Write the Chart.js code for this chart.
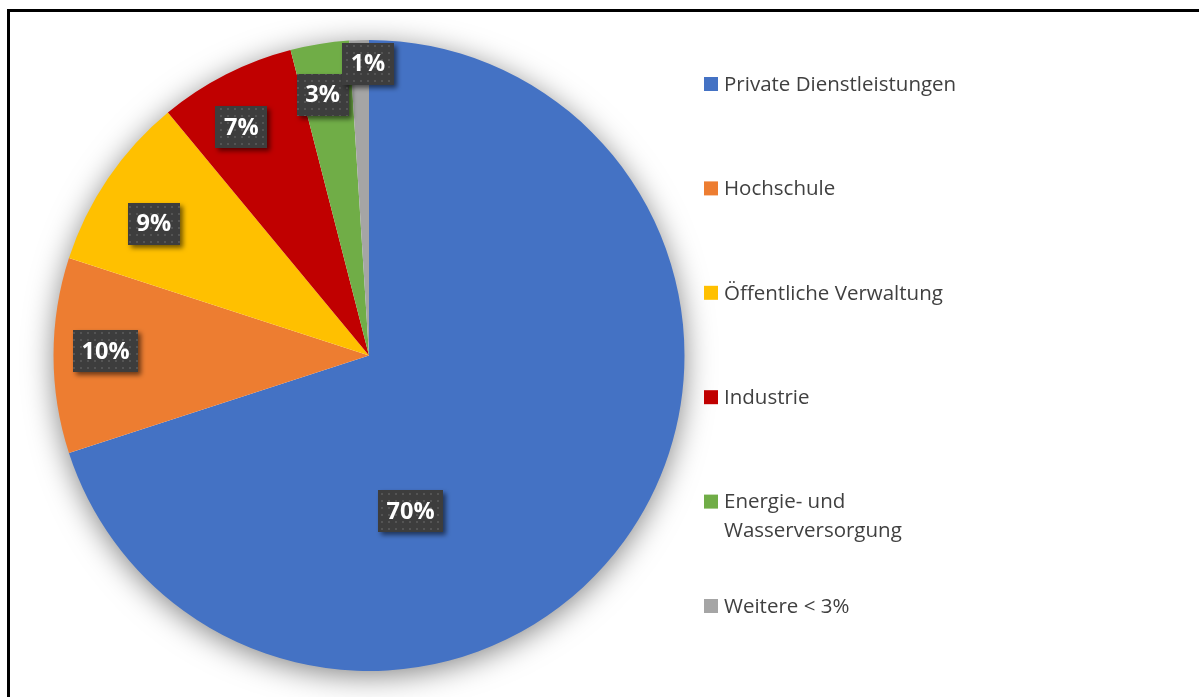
<!DOCTYPE html>
<html>
<head>
<meta charset="utf-8">
<script src="https://cdn.jsdelivr.net/npm/chart.js@4/dist/chart.umd.min.js"></script>
<style>
  html, body { margin: 0; padding: 0; background: #fff; }
  #wrap { position: relative; width: 1199px; height: 697px; }
</style>
</head>
<body>
<div id="wrap"><canvas id="chart" width="1199" height="697"></canvas></div>
<script>
const categories = [
  'Private Dienstleistungen',
  'Hochschule',
  'Öffentliche Verwaltung',
  'Industrie',
  ['Energie- und', 'Wasserversorgung'],
  'Weitere < 3%'
];
const shares = [70, 10, 9, 7, 3, 1];
const sliceColors = ['#4472C4', '#ED7D31', '#FFC000', '#C00000', '#70AD47', '#A5A5A5'];

// label placement per slice: radius as fraction of outer radius, angle shift from the slice middle (deg)
const labelPlacement = [
  { r: 0.51, shift: 39 },
  { r: 0.835, shift: 1 },
  { r: 0.80, shift: -2.7 },
  { r: 0.83, shift: -2.2 },
  { r: 0.84, shift: -1.1 },
  { r: 0.925, shift: 1.6 }
];

const frame = {
  id: 'frame',
  beforeDraw(chart) {
    const ctx = chart.ctx;
    ctx.save();
    ctx.strokeStyle = '#000';
    ctx.lineWidth = 3;
    ctx.beginPath();
    ctx.moveTo(8.5, 720);
    ctx.lineTo(8.5, 10.5);
    ctx.lineTo(1220, 10.5);
    ctx.stroke();
    ctx.restore();
  },
  beforeDatasetsDraw(chart) {
    // soft shadow behind the pie
    const arc = chart.getDatasetMeta(0).data[0];
    const ctx = chart.ctx;
    ctx.save();
    ctx.shadowColor = 'rgba(0,0,0,0.5)';
    ctx.shadowBlur = 30;
    ctx.shadowOffsetY = 5;
    ctx.fillStyle = '#fff';
    ctx.beginPath();
    ctx.arc(arc.x, arc.y, arc.outerRadius - 1, 0, Math.PI * 2);
    ctx.fill();
    ctx.restore();
  }
};

function dotPattern(ctx) {
  const p = document.createElement('canvas');
  p.width = 7; p.height = 7;
  const pc = p.getContext('2d');
  pc.fillStyle = '#3d3d3d';
  pc.fillRect(0, 0, 7, 7);
  pc.fillStyle = '#545454';
  pc.fillRect(3, 3, 2, 2);
  return ctx.createPattern(p, 'repeat');
}

const boxLabels = {
  id: 'boxLabels',
  afterDatasetsDraw(chart) {
    const ctx = chart.ctx;
    const meta = chart.getDatasetMeta(0);
    const data = chart.data.datasets[0].data;
    const pattern = dotPattern(ctx);
    ctx.save();
    ctx.font = 'bold 23.5px "Open Sans"';
    meta.data.forEach((arc, i) => {
      const pl = labelPlacement[i];
      const a = (arc.startAngle + arc.endAngle) / 2 + pl.shift * Math.PI / 180;
      const x = arc.x + Math.cos(a) * arc.outerRadius * pl.r;
      const y = arc.y + Math.sin(a) * arc.outerRadius * pl.r;
      const txt = data[i] + '%';
      const w = ctx.measureText(txt).width + 17;
      const h = 42;
      ctx.save();
      ctx.shadowColor = 'rgba(0,0,0,0.55)';
      ctx.shadowBlur = 5;
      ctx.shadowOffsetX = 3;
      ctx.shadowOffsetY = 3;
      ctx.fillStyle = pattern;
      ctx.fillRect(Math.round(x - w / 2), Math.round(y - h / 2), Math.round(w), h);
      ctx.restore();
      ctx.fillStyle = '#fff';
      ctx.textAlign = 'center';
      ctx.textBaseline = 'middle';
      ctx.fillText(txt, x, y + 1);
    });
    ctx.restore();
  }
};

const sideLegend = {
  id: 'sideLegend',
  afterDraw(chart) {
    const ctx = chart.ctx;
    const colors = chart.data.datasets[0].backgroundColor;
    ctx.save();
    ctx.font = '20.5px "Open Sans"';
    ctx.textBaseline = 'middle';
    ctx.textAlign = 'left';
    chart.data.labels.forEach((label, i) => {
      const y = 84 + i * 104.4;
      ctx.fillStyle = colors[i];
      ctx.fillRect(704, y - 7, 14, 14);
      ctx.fillStyle = '#404040';
      const lines = Array.isArray(label) ? label : [label];
      lines.forEach((ln, j) => ctx.fillText(ln, 724, y + 1 + j * 29));
    });
    ctx.restore();
  }
};

new Chart(document.getElementById('chart').getContext('2d'), {
  type: 'pie',
  data: {
    labels: categories,
    datasets: [{
      data: shares,
      backgroundColor: sliceColors,
      borderWidth: 0
    }]
  },
  options: {
    responsive: false,
    animation: false,
    layout: { padding: { left: 53, right: 514, top: 40, bottom: 26 } },
    plugins: {
      legend: { display: false },
      tooltip: { enabled: false }
    }
  },
  plugins: [frame, boxLabels, sideLegend]
});
</script>
</body>
</html>
